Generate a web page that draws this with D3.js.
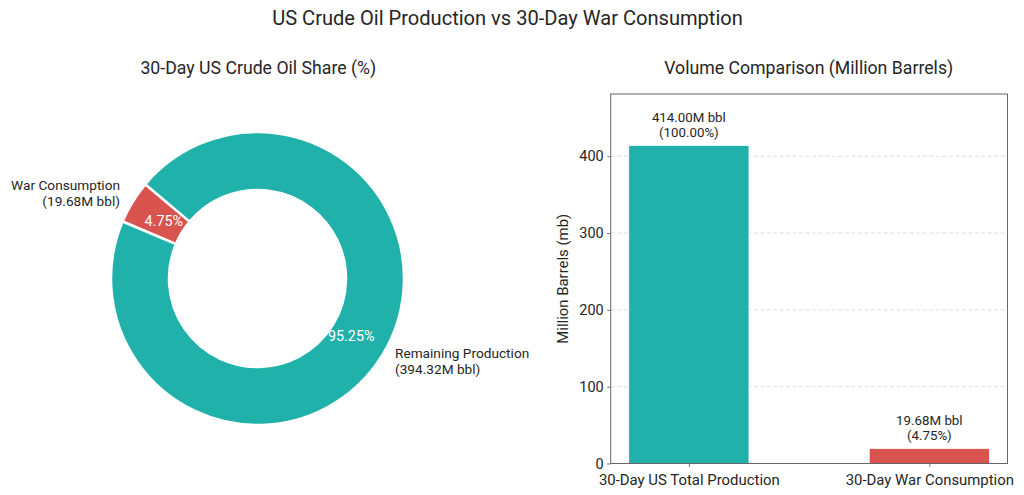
<!DOCTYPE html>
<html><head><meta charset="utf-8">
<script src="https://cdn.jsdelivr.net/npm/d3@7"></script>
<style>
html,body{margin:0;padding:0;background:#fff;}
svg{display:block;font-family:Roboto,"Open Sans",sans-serif;}
</style></head>
<body>
<svg id="chart" width="1024" height="495"></svg>
<script>
// ---- data ----
const categories = ["30-Day US Total Production", "30-Day War Consumption"];
const barValues = [414.00, 19.68];
const barPercents = ["100.00%", "4.75%"];
const pieLabels = ["War Consumption", "Remaining Production"];
const pieValues = [19.68, 394.32];
const piePercents = ["4.75%", "95.25%"];
const yTicks = [0, 100, 200, 300, 400];
const colors = ["#20B2AA", "#D9534F"];
const pieColors = ["#D9534F", "#20B2AA"];

const svg = d3.select("#chart");
const txt = "#262626";

function fit(sel, target) {
  const base = 20;
  sel.attr("font-size", base);
  const w = sel.node().getComputedTextLength();
  const fs = base * target / w;
  sel.attr("font-size", fs);
  return fs;
}
function measureSize(str, target) {
  const t = svg.append("text").text(str);
  const fs = fit(t, target);
  t.remove();
  return fs;
}

// ---- titles ----
const mt = svg.append("text").attr("x", 507.5).attr("y", 25).attr("text-anchor", "middle").attr("fill", txt).text("US Crude Oil Production vs 30-Day War Consumption");
fit(mt, 471);
const pt = svg.append("text").attr("x", 258.3).attr("y", 74).attr("text-anchor", "middle").attr("fill", txt).text("30-Day US Crude Oil Share (%)");
const subFs = fit(pt, 236);
svg.append("text").attr("x", 808.7).attr("y", 74).attr("text-anchor", "middle").attr("fill", txt).attr("font-size", subFs).text("Volume Comparison (Million Barrels)");

// ---- pie ----
const cx = 257.5, cy = 278.5, R = 146.5, r = 88.5;
const labelFs = measureSize("War Consumption", 109);
const pctFs = measureSize("95.25%", 46.5);
const pie = d3.pie().sort(null).value(d => d)
  .startAngle(-(140 - 90) * Math.PI / 180)
  .endAngle(-(140 - 90) * Math.PI / 180 - 2 * Math.PI);
const arcs = pie(pieValues);
const arc = d3.arc().innerRadius(r).outerRadius(R);
const gp = svg.append("g").attr("transform", `translate(${cx},${cy})`);
gp.selectAll("path").data(arcs).join("path")
  .attr("d", arc).attr("fill", (d, i) => pieColors[i])
  .attr("stroke", "#fff").attr("stroke-width", 2.5).attr("stroke-linejoin", "round");
arcs.forEach((d, i) => {
  const mid = (d.startAngle + d.endAngle) / 2;
  const sx = Math.sin(mid), sy = -Math.cos(mid);
  gp.append("text").attr("x", sx * R * 0.75).attr("y", sy * R * 0.75)
    .attr("text-anchor", "middle").attr("dominant-baseline", "central")
    .attr("fill", "#fff").attr("font-size", pctFs).text(piePercents[i]);
  const lx = sx * R * 1.1, ly = sy * R * 1.1;
  const anchor = sx < 0 ? "end" : "start";
  gp.append("text").attr("text-anchor", anchor).attr("fill", txt).attr("font-size", labelFs)
    .attr("x", lx).attr("y", ly - 4.3).text(pieLabels[i]);
  gp.append("text").attr("text-anchor", anchor).attr("fill", txt).attr("font-size", labelFs)
    .attr("x", lx).attr("y", ly + 11.2).text(`(${pieValues[i].toFixed(2)}M bbl)`);
});

// ---- bar chart ----
const L = 610.7, Rt = 1007.5, T = 94, B = 463.5;
const band = (Rt - L) / 1.65;
const x = d3.scalePoint().domain(categories).range([L + 0.325 * band, Rt - 0.325 * band]);
const y = d3.scaleLinear().domain([0, 481]).range([B, T]);
const gb = svg.append("g");
gb.selectAll("line.grid").data(yTicks).join("line").attr("class", "grid")
  .attr("x1", L).attr("x2", Rt).attr("y1", d => y(d)).attr("y2", d => y(d))
  .attr("stroke", "#d9d9d9").attr("stroke-width", 0.9).attr("stroke-dasharray", "4,2.5");
gb.selectAll("rect.bar").data(barValues).join("rect").attr("class", "bar")
  .attr("x", (d, i) => x(categories[i]) - band * 0.25)
  .attr("width", band * 0.5)
  .attr("y", d => y(d)).attr("height", d => B - y(d))
  .attr("fill", (d, i) => colors[i]).attr("stroke", "#fff").attr("stroke-width", 0.8);
const annFs = measureSize("414.00M bbl", 74);
barValues.forEach((v, i) => {
  gb.append("text").attr("text-anchor", "middle").attr("fill", txt).attr("font-size", annFs)
    .attr("x", x(categories[i])).attr("y", y(v) - 23.5).text(`${v.toFixed(2)}M bbl`);
  gb.append("text").attr("text-anchor", "middle").attr("fill", txt).attr("font-size", annFs)
    .attr("x", x(categories[i])).attr("y", y(v) - 8.5).text(`(${barPercents[i]})`);
});
const tickFs = measureSize("30-Day US Total Production", 181);
const yAxis = d3.axisLeft(y).tickValues(yTicks).tickSize(3.5).tickPadding(3.5).tickFormat(d3.format("d"));
const ya = gb.append("g").attr("transform", `translate(${L},0)`).call(yAxis);
ya.select(".domain").remove();
ya.attr("font-family", null);
ya.selectAll("line").attr("stroke", "#555").attr("stroke-width", 0.8);
ya.selectAll("text").attr("font-size", tickFs * 0.97).attr("fill", txt);
const xAxis = d3.axisBottom(x).tickSize(3.5).tickPadding(4);
const xa = gb.append("g").attr("transform", `translate(0,${B})`).call(xAxis);
xa.select(".domain").remove();
xa.attr("font-family", null);
xa.selectAll("line").attr("stroke", "#555").attr("stroke-width", 0.8);
xa.selectAll("text").attr("font-size", tickFs).attr("fill", txt).attr("dy", null).attr("y", 21.5);
gb.append("rect").attr("x", L).attr("y", T).attr("width", Rt - L).attr("height", B - T)
  .attr("fill", "none").attr("stroke", "#666").attr("stroke-width", 1);
svg.append("text").attr("transform", `translate(568,${(T + B) / 2}) rotate(-90)`)
  .attr("text-anchor", "middle").attr("fill", txt).attr("font-size", tickFs)
  .text("Million Barrels (mb)");
</script>
</body></html>
